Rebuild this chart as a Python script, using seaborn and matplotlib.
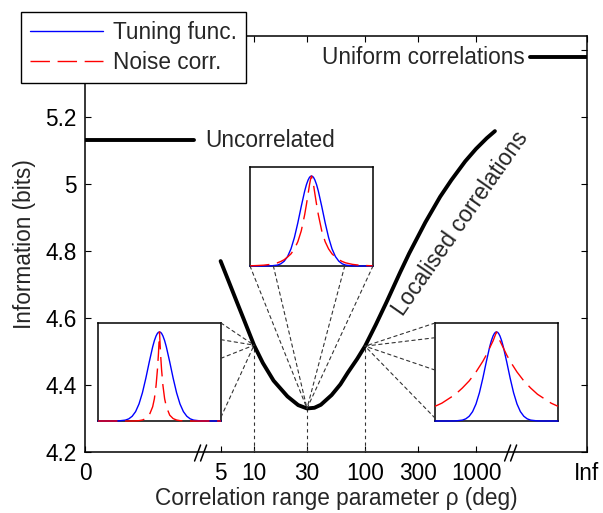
import numpy as np
import matplotlib
matplotlib.use("Agg")
import matplotlib.pyplot as plt
import matplotlib.transforms as mtransforms
from matplotlib.patches import ConnectionPatch
from matplotlib.lines import Line2D
from matplotlib.ticker import NullLocator
import seaborn as sns

# ---------------- data ----------------
rho = [5, 6, 7, 8, 10, 12, 15, 20, 25, 30, 35, 40, 50, 60, 70, 85, 100,
       125, 156, 207, 250, 350, 475, 600, 800, 1000, 1250, 1480]
info = [4.770, 4.704, 4.648, 4.600, 4.519, 4.466, 4.413, 4.366, 4.340, 4.330,
        4.332, 4.341, 4.370, 4.402, 4.437, 4.478, 4.516, 4.580, 4.647, 4.736,
        4.793, 4.886, 4.962, 5.012, 5.068, 5.105, 5.137, 5.158]

uncorr_x = [0.3, 2.9]
uncorr_y = 5.131
uniform_x = [3060, 10000]
uniform_y = 5.378

xtick_vals = [0.3, 5, 10, 30, 100, 300, 1000, 10000]
xtick_labels = ["0", "5", "10", "30", "100", "300", "1000", "Inf"]
ytick_vals = [4.2, 4.4, 4.6, 4.8, 5.0, 5.2, 5.4]
ytick_labels = ["4.2", "4.4", "4.6", "4.8", "5", "5.2", ""]
break_x = [3.3, 2050]

inset_rho = [10, 30, 100]

theta = [-180, -160, -140, -120, -100, -90, -80, -70, -60, -50, -40, -30, -20,
         -15, -10, -6, -3, 0, 3, 6, 10, 15, 20, 30, 40, 50, 60, 70, 80, 90,
         100, 120, 140, 160, 180]
tuning = [0, 0, 0, 0.001, 0.010, 0.024, 0.053, 0.105, 0.191, 0.317, 0.480,
          0.662, 0.832, 0.902, 0.955, 0.984, 0.996, 1.0, 0.996, 0.984, 0.955,
          0.902, 0.832, 0.662, 0.480, 0.317, 0.191, 0.105, 0.053, 0.024,
          0.010, 0.001, 0, 0, 0]
corr_rho10 = [0, 0, 0, 0, 0, 0, 0, 0.001, 0.004, 0.011, 0.027, 0.065, 0.16,
              0.25, 0.40, 0.58, 0.76, 1.0, 0.76, 0.58, 0.40, 0.25, 0.16, 0.065,
              0.027, 0.011, 0.004, 0.001, 0, 0, 0, 0, 0, 0, 0]
corr_rho30 = [0.002, 0.005, 0.009, 0.018, 0.035, 0.05, 0.07, 0.10, 0.135, 0.19,
              0.27, 0.39, 0.57, 0.68, 0.80, 0.90, 0.96, 1.0, 0.96, 0.90, 0.80,
              0.68, 0.57, 0.39, 0.27, 0.19, 0.135, 0.10, 0.07, 0.05, 0.035,
              0.018, 0.009, 0.005, 0.002]
corr_rho100 = [0.165, 0.20, 0.25, 0.30, 0.37, 0.41, 0.45, 0.50, 0.55, 0.61,
               0.67, 0.74, 0.82, 0.86, 0.90, 0.94, 0.97, 1.0, 0.97, 0.94, 0.90,
               0.86, 0.82, 0.74, 0.67, 0.61, 0.55, 0.50, 0.45, 0.41, 0.37,
               0.30, 0.25, 0.20, 0.165]
noise_corr = [corr_rho10, corr_rho30, corr_rho100]

# ---------------- style ----------------
sns.set_style("ticks")
plt.rcParams["font.family"] = ["Liberation Sans", "DejaVu Sans"]
plt.rcParams["font.size"] = 16
plt.rcParams["axes.linewidth"] = 1.1

W, H = 603, 513
FS = 16.3
fig = plt.figure(figsize=(W / 100, H / 100), dpi=100)
fig.patch.set_facecolor("white")

def fr(x0, y0, x1, y1):
    return [x0 / W, 1 - y1 / H, (x1 - x0) / W, (y1 - y0) / H]

ax = fig.add_axes(fr(85, 36, 587, 452))
ax.set_facecolor("white")

sns.lineplot(x=rho, y=info, ax=ax, color="black", lw=2.8, zorder=4)
sns.lineplot(x=uncorr_x, y=[uncorr_y] * 2, ax=ax, color="black", lw=2.8,
             zorder=4)
sns.lineplot(x=uniform_x, y=[uniform_y] * 2, ax=ax, color="black", lw=2.8,
             zorder=4)

ax.set_xscale("log")
ax.set_xlim(0.3, 10000)
ax.set_ylim(4.2, 5.442)
ax.xaxis.set_minor_locator(NullLocator())
ax.set_xticks(xtick_vals)
ax.set_xticklabels(xtick_labels)
ax.set_yticks(ytick_vals)
ax.set_yticklabels(ytick_labels)
ax.tick_params(axis="both", which="both", direction="in", length=4, width=0.8,
               top=True, right=True, labelsize=FS, colors="black")
ax.tick_params(axis="x", pad=7)
ax.tick_params(axis="y", pad=6)
for s in ax.spines.values():
    s.set_color("black")
    s.set_linewidth(1.1)

ax.set_xlabel("Correlation range parameter ρ (deg)", fontsize=FS)
ax.set_ylabel("Information (bits)", fontsize=FS)
ax.xaxis.set_label_coords(0.5, -(499 - 452) / 416)
ax.xaxis.label.set_va("center")
ax.yaxis.set_label_coords((25 - 85) / 502, 0.5)
ax.yaxis.label.set_va("center")
ax.yaxis.label.set_ha("center")

# text annotations
ax.text(3.63, uncorr_y, "Uncorrelated", ha="left", va="center", fontsize=FS)
ax.text(2760, uniform_y, "Uniform correlations", ha="right", va="center",
        fontsize=FS)
ax.text(733, 4.881, "Localised correlations", ha="center", va="center",
        rotation=55, rotation_mode="anchor", fontsize=FS)

# dotted verticals
dot_style = dict(color="0.2", lw=0.8, linestyle=(0, (3, 3)))
info_at = [info[rho.index(r)] for r in inset_rho]
for r, v in zip(inset_rho, info_at):
    ax.plot([r, r], [4.2, v], zorder=3, **dot_style)

# axis break marks
for xb in break_x:
    base = mtransforms.ScaledTranslation(xb, 0, ax.get_xaxis_transform())
    tr = mtransforms.Affine2D().scale(1.0) + base
    for off in (-3, 3):
        ln = Line2D([off - 3, off + 3], [-9, 7], color="black", lw=1.1,
                    transform=tr, clip_on=False)
        ax.add_line(ln)

# ---------------- insets ----------------
inset_pos = [fr(98, 323, 221, 421), fr(250, 167, 373, 266),
             fr(435, 323, 558, 421)]
anchors = [
    [(1, 1.0), (1, 0.83), (1, 0.64), (1, 0.04)],
    [(0, 0), (0.19, 0), (0.77, 0), (1, 0)],
    [(0, 1.0), (0, 0.85), (0, 0.52), (0, 0.03)],
]
for pos, corr, r, v, anc in zip(inset_pos, noise_corr, inset_rho, info_at,
                                anchors):
    iax = fig.add_axes(pos)
    iax.set_facecolor("white")
    sns.lineplot(x=theta, y=tuning, ax=iax, color="blue", lw=1.0, zorder=3,
                 clip_on=False)
    sns.lineplot(x=theta, y=corr, ax=iax, color="red", lw=1.0, zorder=3,
                 linestyle=(0, (14, 5.5)), clip_on=False)
    iax.set_xlim(-180, 180)
    iax.set_ylim(0, 1.1)
    iax.set_xticks([])
    iax.set_yticks([])
    iax.set_xlabel("")
    iax.set_ylabel("")
    for s in iax.spines.values():
        s.set_color("black")
        s.set_linewidth(1.1)
    for a in anc:
        con = ConnectionPatch(xyA=a, coordsA=iax.transAxes, xyB=(r, v),
                              coordsB=ax.transData, arrowstyle="-",
                              shrinkA=0, shrinkB=0, **dot_style)
        fig.add_artist(con)

# ---------------- legend ----------------
handles = [Line2D([], [], color="blue", lw=1.0),
           Line2D([], [], color="red", lw=1.0, linestyle=(0, (14, 5.5)))]
leg = ax.legend(handles, ["Tuning func.", "Noise corr."], loc="upper left",
                bbox_to_anchor=(21 / W, 1 - 12 / H),
                bbox_transform=fig.transFigure, borderaxespad=0,
                frameon=True, fancybox=False, edgecolor="black",
                framealpha=1, handlelength=3.2, handletextpad=0.45,
                borderpad=0.4, labelspacing=0.3, fontsize=FS)
leg.get_frame().set_linewidth(1.0)
leg.set_zorder(10)

fig.savefig("out.png", dpi=100, facecolor="white")
